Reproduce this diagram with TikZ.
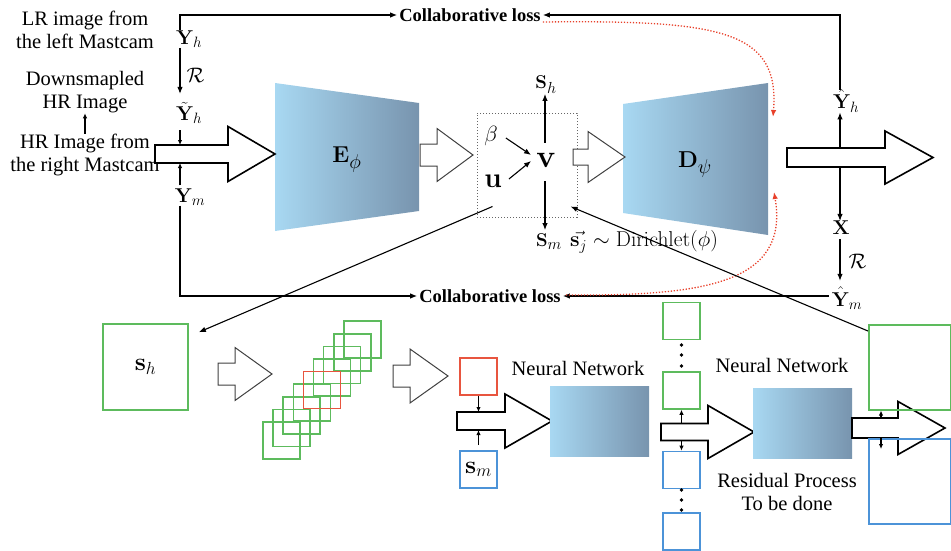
\RequirePackage{fix-cm}
\documentclass[tikz,border=0pt]{standalone}
\usepackage[no-math]{fontspec}
\setmainfont{Liberation Serif}
\usetikzlibrary{arrows.meta}

% larger script sizes for the block and latent labels
\DeclareMathSizes{20}{20}{15}{11}
\DeclareMathSizes{18.5}{18.5}{16}{12}
\DeclareMathSizes{23}{23}{20}{15}

\definecolor{netL}{HTML}{A8D8F2}
\definecolor{netR}{HTML}{7894AE}
\definecolor{bxgreen}{HTML}{5DBB5D}
\definecolor{bxred}{HTML}{E8553F}
\definecolor{bxblue}{HTML}{4C93D8}
\definecolor{lossred}{HTML}{E8402A}

% hollow block arrow: [style]{name}{x tail}{x head base}{x tip}{y centre}{half shaft}{half head}
\newcommand\hollowarrow[8][]{%
  \draw[#1] (#3,#6-#7) -- (#4,#6-#7) -- (#4,#6-#8) -- (#5,#6) -- (#4,#6+#8)
    -- (#4,#6+#7) -- (#3,#6+#7) -- cycle;
  \coordinate (#2-top) at (#3,#6-#7);
  \coordinate (#2-bot) at (#3,#6+#7);
  \coordinate (#2-tip) at (#5,#6);}

\begin{document}
\begin{tikzpicture}[x=1pt,y=-1pt,
  conn/.style={line width=1.1pt,-{Latex[length=7pt,width=5.5pt]}},
  smallarr/.style={line width=1.1pt,-{Latex[length=5pt,width=4.5pt]}},
  lossflow/.style={lossred,line width=1.3pt,dash pattern=on 1.3pt off 1.7pt,
    -{Latex[length=7pt,width=5.5pt]}},
  lbl/.style={font=\fontsize{20.5}{23.5}\selectfont,align=center,inner sep=0pt},
  loss/.style={font=\bfseries\fontsize{18.5}{22}\selectfont,inner sep=2pt},
  mlab/.style={font=\fontsize{20}{22}\selectfont,inner sep=0pt},
  slab/.style={font=\fontsize{18.5}{21}\selectfont,inner sep=0pt},
  blocklab/.style={font=\fontsize{23}{23}\selectfont,inner sep=0pt},
  thinhollow/.style={draw=black!75,line width=1pt,fill=white},
  thickhollow/.style={draw=black,line width=1.6pt,fill=white},
  net/.style={left color=netL,right color=netR,inner sep=0pt},
  gbox/.style={draw=bxgreen,line width=1.6pt,minimum size=37pt,inner sep=0pt},
  bbox/.style={draw=bxblue,line width=1.6pt,minimum size=37pt,inner sep=0pt},
  rbox/.style={draw=bxred,line width=1.6pt,minimum size=37pt,inner sep=0pt},
]
\useasboundingbox (0,0) rectangle (951,551);

% ---------- encoder / decoder blocks ----------
\shade[left color=netL,right color=netR] (275,83) -- (419,103) -- (419,211) -- (275,231) -- cycle;
\node[blocklab] (enc) at (347,160) {$\mathbf{E}_\phi$};
\shade[left color=netL,right color=netR] (623,104) -- (768,83) -- (768,235) -- (623,213) -- cycle;
\node[blocklab] (dec) at (695,165) {$\mathbf{D}_\psi$};
\coordinate (decTop) at (773,117);
\coordinate (decBot) at (774,192);

% ---------- input side ----------
\node[lbl] (lrtxt) at (85,30) {LR image from\\the left Mastcam};
\node[lbl] (dstxt) at (85,92) {Downsmapled\\HR Image};
\node[lbl] (hrtxt) at (85,155) {HR Image from\\the right Mastcam};
\draw[smallarr] (hrtxt.north) -- (dstxt.south);

\hollowarrow[thickhollow]{a1}{155}{228}{275}{154}{9}{27.5}

\coordinate (axL) at (180,0);
\node[mlab] (Yh) at (189,39) {$\mathbf{Y}_h$};
\node[mlab] (Yt) at (189,113) {$\tilde{\mathbf{Y}}_h$};
\node[mlab] (Ym) at (190,197) {$\mathbf{Y}_m$};
\draw[conn,shorten >=8pt] (Yh.south -| axL) -- (Yt.north -| axL)
  node[midway,right=6pt,font=\fontsize{21}{21}\selectfont,inner sep=0pt] {$\mathcal{R}$};
\draw[smallarr,shorten <=6pt] (Yt.south -| axL) -- (a1-top -| axL);
\draw[smallarr,shorten <=3pt] (Ym.north -| axL) -- (a1-bot -| axL);

% ---------- collaborative losses ----------
\node[loss] (cl1) at (470,15) {Collaborative loss};
\node[loss] (cl2) at (490,296) {Collaborative loss};
\draw[conn] (Yh.north -| axL) |- (cl1.west);
\draw[conn] (Ym.south -| axL) |- (cl2.west);

% ---------- latent box ----------
\hollowarrow[thinhollow]{a2}{420}{437}{473}{155}{11}{26.5}
\node[draw=black!60,line width=1pt,dash pattern=on 1.2pt off 1.8pt,
  minimum width=100pt,minimum height=104pt,inner sep=0pt] (vbox) at (527,165) {};
\coordinate (axV) at (545,0);
\node[font=\fontsize{32}{32}\selectfont,inner sep=0pt] (v) at (546,160) {$\mathbf{v}$};
\node[font=\fontsize{22}{22}\selectfont,inner sep=0pt] (beta) at (491,136) {$\beta$};
\node[font=\fontsize{28}{28}\selectfont,inner sep=0pt] (u) at (493,181) {$\mathbf{u}$};
\draw[conn] ([xshift=8pt,yshift=-2pt]beta.east) -- ([xshift=-5pt,yshift=5pt]v.west);
\draw[conn] ([xshift=7pt,yshift=2pt]u.east) -- ([xshift=-5pt,yshift=-1pt]v.west);
\node[slab] (Sh) at (546,85) {$\mathbf{S}_h$};
\node[slab] (Sm) at (549,242) {$\mathbf{S}_m$};
\node[font=\fontsize{21.5}{21.5}\selectfont,inner sep=0pt,anchor=west] (dir) at (570,242)
  {$\vec{\mathbf{s}_j}\sim\mathrm{Dirichlet}(\phi)$};
\draw[conn,shorten <=10pt] (v.north -| axV) -- (Sh.south -| axV);
\draw[conn,shorten <=14pt,shorten >=4pt] (v.south -| axV) -- (Sm.north -| axV);
\hollowarrow[thinhollow]{a3}{573}{588}{625}{157}{8}{25.5}

% ---------- output side ----------
\hollowarrow[thickhollow]{a4}{787}{885}{933}{157.5}{9.5}{26.5}
\coordinate (axR) at (840,0);
\node[mlab] (Yhh) at (846,101) {$\hat{\mathbf{Y}}_h$};
\node[mlab] (X) at (841,228) {$\mathbf{X}$};
\node[mlab] (Ymh) at (847,298) {$\hat{\mathbf{Y}}_m$};
\draw[conn] (Yhh.north -| axR) |- (cl1.east);
\draw[conn] ([xshift=-3pt]Ymh.west |- cl2.east) -- (cl2.east);
\draw[conn] (a4-top -| axR) -- (Yhh.south -| axR);
\draw[conn] (a4-bot -| axR) -- (X.north -| axR);
\draw[conn,shorten <=4pt,shorten >=6pt] (X.south -| axR) -- (Ymh.north -| axR)
  node[midway,right=8pt,font=\fontsize{21}{21}\selectfont,inner sep=0pt] {$\mathcal{R}$};

% loss feedback into the decoder
\draw[lossflow] ([yshift=-7pt]cl1.east) .. controls (720,20) and (780,30) .. (decTop);
\draw[lossflow] ([xshift=3pt,yshift=1pt]cl2.east) .. controls (700,296) and (790,285) .. (decBot);

% ---------- patch pipeline ----------
\node[gbox,minimum width=85pt,minimum height=86pt,font=\fontsize{25}{25}\selectfont]
  (shbox) at (145.5,367) {$\mathbf{s}_h$};
\draw[conn] ([xshift=16pt,yshift=11pt]vbox.south west) -- ([xshift=10pt,yshift=-9pt]shbox.north east);

\hollowarrow[thinhollow]{a5}{218}{235}{272}{374}{11}{26.5}
\foreach \i in {0,1,2,3,5,6,7,8}
  \draw[bxgreen,line width=1.6pt] (263+10.1*\i,422-12.6*\i) rectangle ++(37,37);
\draw[bxred,line width=1.6pt] (263+10.1*4,422-12.6*4) rectangle ++(37,37);
\hollowarrow[thinhollow]{a6}{393}{410}{448}{376}{11}{27}

\node[rbox] (rb) at (478.5,376.5) {};
\node[bbox,font=\fontsize{25}{25}\selectfont] (smb) at (478.5,469.5) {$\mathbf{s}_m$};
\hollowarrow[thickhollow]{a7}{457}{505}{552}{421}{9}{27}
\draw[smallarr] (rb.south) -- (rb.south |- a7-top);
\draw[smallarr,shorten <=5pt] (smb.north) -- (smb.north |- a7-bot);

\node[net,minimum width=99pt,minimum height=70pt] (nn1) at (599.5,421) {};
\node[lbl] (nn1txt) at (578,368) {Neural Network};

% candidate patches
\node[gbox] (c1) at (681.5,321) {};
\node[gbox] (c2) at (681.5,390.5) {};
\node[bbox] (c3) at (681.5,470) {};
\node[bbox] (c4) at (681.5,531.5) {};
\foreach \yy in {345,355,366,490,500,510} \fill (681.5,\yy) circle (1.8);
\hollowarrow[thickhollow]{a8}{661}{708}{754}{432}{8.5}{26.5}
\draw[smallarr] (c2.south |- a8-top) -- (c2.south);
\draw[smallarr] (c3.north |- a8-bot) -- (c3.north);

\node[net,minimum width=99pt,minimum height=70pt] (nn2) at (802.5,423) {};
\node[lbl] (nn2txt) at (782,365) {Neural Network};
\node[lbl] (restxt) at (787,492) {Residual Process\\To be done};

% reconstructed outputs
\hollowarrow[thickhollow]{a9}{852}{898}{945}{428}{10}{26.5}
\node[draw=bxgreen,line width=1.6pt,minimum width=82pt,minimum height=85pt,inner sep=0pt,
  anchor=north west] (bigG) at (868,324) {};
\node[draw=bxblue,line width=1.6pt,minimum width=82pt,minimum height=85pt,inner sep=0pt,
  anchor=north west] (bigB) at (868,438) {};
\coordinate (axB) at (881,0);
\coordinate (bdn) at (881,449);
\draw[smallarr] (a9-top -| axB) -- (bigG.south -| axB);
\draw[smallarr] (a9-bot -| axB) -- (bdn);
\draw[conn] ([yshift=-7pt]bigG.north west) -- ([xshift=-7pt,yshift=11pt]vbox.south east);
\end{tikzpicture}
\end{document}
